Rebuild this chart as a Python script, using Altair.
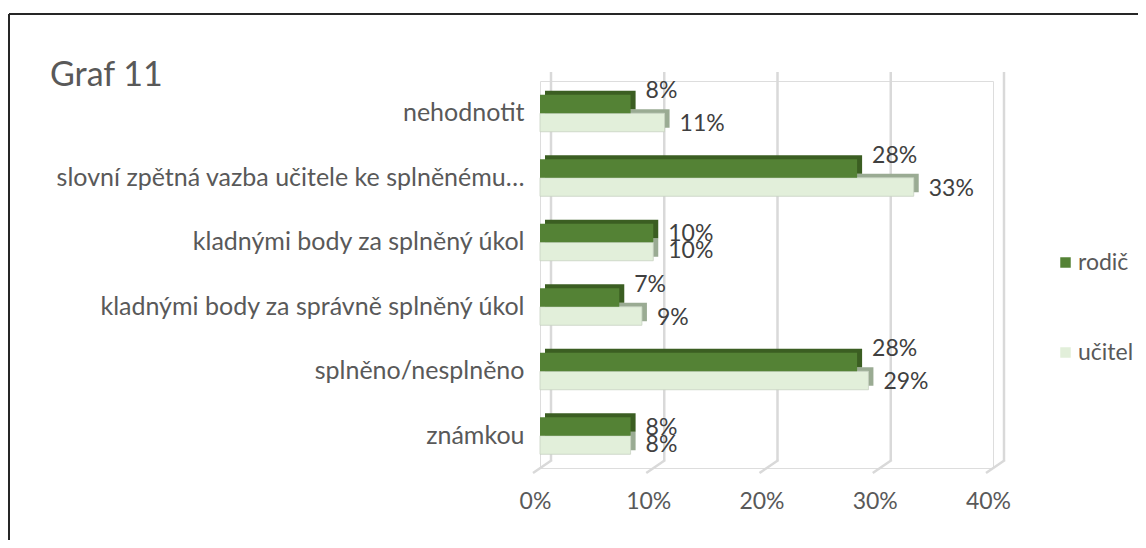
import altair as alt
import pandas as pd

categories = [
    "nehodnotit",
    "slovní zpětná vazba učitele ke splněnému…",
    "kladnými body za splněný úkol",
    "kladnými body za správně splněný úkol",
    "splněno/nesplněno",
    "známkou",
]
rodic = [8, 28, 10, 7, 28, 8]
ucitel = [11, 33, 10, 9, 29, 8]
series = ["rodič", "učitel"]
ticks = [0, 10, 20, 30, 40]
title_text = "Graf 11"

rows = []
for c, r, u in zip(categories, rodic, ucitel):
    rows.append({"cat": c, "series": series[0], "value": r, "tight": r == u})
    rows.append({"cat": c, "series": series[1], "value": u, "tight": r == u})
df = pd.DataFrame(rows)
tick_df = pd.DataFrame({"t": ticks})

FONT = "Lato"
W, H = 453, 387
BAR_H = 18.5
HALF = BAR_H / 2
DX, DY = 5, 4  # 3D depth

x_scale = alt.Scale(domain=[0, 40], nice=False, zero=True)
x_axis = alt.Axis(
    title=None, values=ticks, grid=False, domain=False, ticks=False,
    labelExpr="datum.value + '%'", labelFontSize=23, labelColor="#595959",
    labelPadding=33, labelBaseline="middle", labelOffset=-5, labelFont=FONT,
    labelFlush=False,
)
y_axis = alt.Axis(
    title=None, domain=False, ticks=False, labelFontSize=25, labelColor="#595959",
    labelPadding=16, labelLimit=700, labelFont=FONT,
)
y_scale = alt.Scale(domain=categories, paddingInner=0, paddingOuter=0)


def Y():
    return alt.Y("cat:N", scale=y_scale, axis=y_axis, sort=categories)


def XV():
    return alt.X("value:Q", scale=x_scale, axis=x_axis)


color_scale = alt.Scale(domain=series, range=["#548235", "#e2efda"])
legend = alt.Legend(
    title=None, orient="none", legendX=514, legendY=170, symbolType="square",
    symbolSize=110, symbolStrokeWidth=0, labelFontSize=23, labelColor="#595959",
    labelFont=FONT, rowPadding=66, padding=0, labelOffset=1,
)

grid_v = alt.Chart(tick_df).mark_rule(color="#d9d9d9", strokeWidth=2.5, xOffset=11).encode(
    x=alt.X("t:Q", scale=x_scale, axis=x_axis), y=alt.value(-9), y2=alt.value(379)
)
grid_d = alt.Chart(tick_df).mark_rule(color="#d9d9d9", strokeWidth=2.5, xOffset=12, x2Offset=-7).encode(
    x=alt.X("t:Q", scale=x_scale, axis=x_axis), x2="t:Q", y=alt.value(379), y2=alt.value(392)
)

base = alt.Chart(df)
u_depth = base.transform_filter(alt.datum.series == series[1]).mark_bar(
    height=BAR_H, yOffset=HALF - DY, xOffset=DX, color="#9aab93"
).encode(x=XV(), y=Y())
r_depth = base.transform_filter(alt.datum.series == series[0]).mark_bar(
    height=BAR_H, yOffset=-HALF - DY, xOffset=DX, color="#3b5e22"
).encode(x=XV(), y=Y())
u_main = base.transform_filter(alt.datum.series == series[1]).mark_bar(
    height=BAR_H, yOffset=HALF, stroke="#c8d2c2", strokeWidth=0.8
).encode(x=XV(), y=Y(), color=alt.Color("series:N", scale=color_scale, legend=legend))
r_main = base.transform_filter(alt.datum.series == series[0]).mark_bar(
    height=BAR_H, yOffset=-HALF
).encode(x=XV(), y=Y(), color=alt.Color("series:N", scale=color_scale, legend=legend))


def label_layer(s, tight, yoff):
    return base.transform_filter(
        (alt.datum.series == s) & (alt.datum.tight == tight)
    ).transform_calculate(lbl="datum.value + '%'").mark_text(
        align="left", baseline="middle", dx=15, yOffset=yoff, fontSize=23,
        font=FONT, color="#404040"
    ).encode(x=XV(), y=Y(), text="lbl:N")


labels = [
    label_layer(series[0], False, -22),
    label_layer(series[0], True, -8),
    label_layer(series[1], False, 11),
    label_layer(series[1], True, 9),
]

border_top = alt.Chart(tick_df).mark_rule(color="#262626", strokeWidth=2).encode(
    x=alt.value(-531), x2=alt.value(620), y=alt.value(-67)
)
border_left = alt.Chart(tick_df).mark_rule(color="#262626", strokeWidth=2).encode(
    x=alt.value(-531), y=alt.value(-67), y2=alt.value(470)
)

chart = alt.layer(
    border_top, border_left, grid_v, grid_d, u_depth, r_depth, u_main, r_main, *labels
).properties(
    width=W, height=H,
    padding={"left": 532, "top": 73, "right": 145, "bottom": 72},
    autosize=alt.AutoSizeParams(type="none"),
    title=alt.Title(
        title_text, anchor="start", frame="group", fontSize=34, font=FONT,
        color="#595959", fontWeight="normal", baseline="alphabetic", offset=0,
        dx=-490, dy=107,
    ),
).configure_view(stroke=None).configure(background="white")

chart.save("out.html", embed_options={"renderer": "svg", "actions": False})
